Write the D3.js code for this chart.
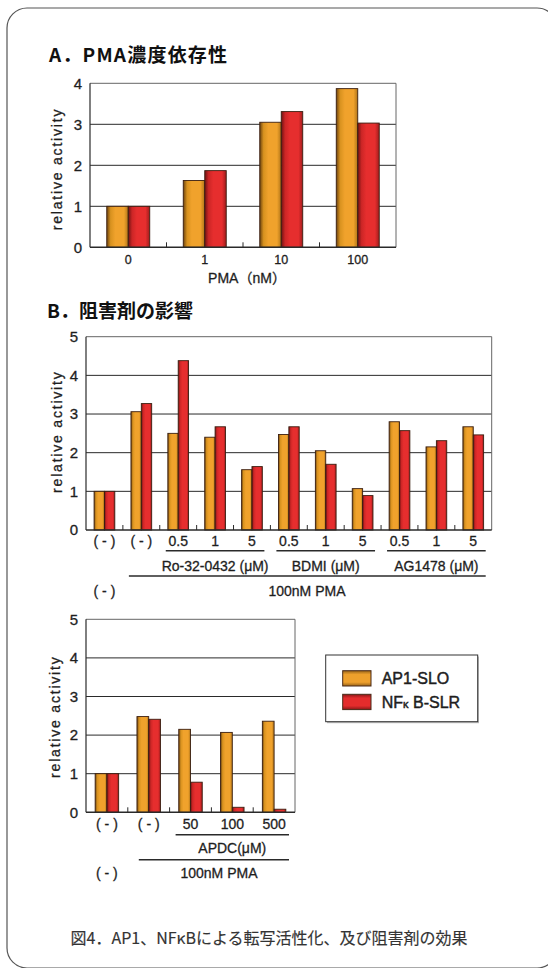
<!DOCTYPE html>
<html>
<head>
<meta charset="utf-8">
<script src="https://cdn.jsdelivr.net/npm/d3@7/dist/d3.min.js"></script>
<style>
  html, body { margin: 0; padding: 0; background: #fff; }
  svg { display: block; }
  text { font-family: "Liberation Sans", "Noto Sans CJK JP", sans-serif; fill: #1e1e1e; stroke: #1e1e1e; stroke-width: 0.3px; }
  .jp { font-family: "Noto Sans CJK JP", "Liberation Sans", sans-serif; }
  .bold { stroke-width: 0; }
</style>
</head>
<body>
<svg id="chart" width="548" height="968"></svg>
<script>
// series names
const seriesNames = ['AP1-SLO', 'NFκB-SLR']

// A. PMA dose
const panelACats = ['0', '1', '10', '100']
const panelAAp1 = [1.0, 1.63, 3.05, 3.87]
const panelANfkb = [1.0, 1.87, 3.31, 3.03]
const panelATicks = [0, 1, 2, 3, 4]

// B. inhibitors
const panelBCats = ['( - )', '( - )', '0.5', '1', '5', '0.5', '1', '5', '0.5', '1', '5']
const panelBAp1 = [1.0, 3.06, 2.50, 2.40, 1.56, 2.47, 2.05, 1.07, 2.80, 2.15, 2.67]
const panelBNfkb = [1.0, 3.27, 4.38, 2.67, 1.64, 2.67, 1.70, 0.89, 2.57, 2.31, 2.46]
const panelBGroups = [
  { label: 'Ro-32-0432 (μM)', from: 2, to: 4 },
  { label: 'BDMI (μM)', from: 5, to: 7 },
  { label: 'AG1478 (μM)', from: 8, to: 10 }
]

// B (lower). APDC
const panelCCats = ['( - )', '( - )', '50', '100', '500']
const panelCAp1 = [1.0, 2.48, 2.15, 2.07, 2.36]
const panelCNfkb = [1.0, 2.41, 0.78, 0.13, 0.08]
const panelCGroups = [
  { label: 'APDC(μM)', from: 2, to: 4 }
]
const panelBCTicks = [0, 1, 2, 3, 4, 5]

const svg = d3.select('#chart')
const defs = svg.append('defs')

// bar gradients (horizontal, dark edges)
function hGrad(id, stops) {
  const g = defs.append('linearGradient').attr('id', id)
    .attr('x1', '0%').attr('x2', '100%').attr('y1', '0%').attr('y2', '0%')
  stops.forEach(s => g.append('stop').attr('offset', s[0]).attr('stop-color', s[1]))
}
function vGrad(id, stops) {
  const g = defs.append('linearGradient').attr('id', id)
    .attr('x1', '0%').attr('x2', '0%').attr('y1', '0%').attr('y2', '100%')
  stops.forEach(s => g.append('stop').attr('offset', s[0]).attr('stop-color', s[1]))
}
hGrad('gOrange', [['0%', '#6e440e'], ['18%', '#d8921f'], ['40%', '#f0a22c'], ['80%', '#f0a22c'], ['100%', '#b07418']])
hGrad('gRed', [['0%', '#701212'], ['18%', '#cc2626'], ['40%', '#e62e2e'], ['80%', '#e62e2e'], ['100%', '#a01c1c']])
vGrad('lOrange', [['0%', '#9a6418'], ['25%', '#eea02c'], ['75%', '#eea02c'], ['100%', '#9a6418']])
vGrad('lRed', [['0%', '#8a1818'], ['25%', '#e42c2c'], ['75%', '#e42c2c'], ['100%', '#8a1818']])
const fills = ['url(#gOrange)', 'url(#gRed)']

// outer frame
svg.append('rect')
  .attr('x', 7).attr('y', 8).attr('width', 550).attr('height', 960).attr('rx', 20)
  .style('fill', 'none').style('stroke', '#555').style('stroke-width', 1.2)

function drawPanel(cfg) {
  const g = svg.append('g')
  const x = d3.scaleBand().domain(d3.range(cfg.cats.length)).range(cfg.xr).paddingInner(0).paddingOuter(0)
  const xs = d3.scaleBand().domain([0, 1]).range([0, x.bandwidth()]).paddingInner(0).paddingOuter(0.78)
  const y = d3.scaleLinear().domain([0, cfg.ticks[cfg.ticks.length - 1]]).range(cfg.yr)
  const x0 = cfg.xr[0], x1 = cfg.xr[1], yb = cfg.yr[0], yt = cfg.yr[1]

  // grid
  g.selectAll('.grid').data(cfg.ticks.filter(t => t > 0)).enter().append('line')
    .attr('x1', x0).attr('x2', x1).attr('y1', d => y(d)).attr('y2', d => y(d))
    .style('stroke', (d, i, a) => i === a.length - 1 ? '#666' : '#2a2a2a').style('stroke-width', 1)
  g.append('line').attr('x1', x1).attr('x2', x1).attr('y1', yt).attr('y2', yb)
    .style('stroke', '#666').style('stroke-width', 1)

  // bars
  const rows = cfg.cats.map((c, i) => [cfg.ap1[i], cfg.nfkb[i]])
  const grp = g.selectAll('.cat').data(rows).enter().append('g')
    .attr('transform', (d, i) => `translate(${x(i)},0)`)
  grp.selectAll('rect').data(d => d).enter().append('rect')
    .attr('x', (d, j) => xs(j))
    .attr('y', d => y(d))
    .attr('width', xs.bandwidth())
    .attr('height', d => yb - y(d))
    .style('fill', (d, j) => fills[j])
    .style('stroke', '#3a1e10').style('stroke-width', 0.9)

  // axes lines
  g.append('line').attr('x1', x0).attr('x2', x0).attr('y1', yt).attr('y2', yb)
    .style('stroke', '#2a2a2a').style('stroke-width', 1.2)
  g.append('line').attr('x1', x0).attr('x2', x1).attr('y1', yb).attr('y2', yb)
    .style('stroke', '#2a2a2a').style('stroke-width', 1.5)
  g.selectAll('.sep').data(d3.range(1, cfg.cats.length)).enter().append('line')
    .attr('x1', d => x0 + d * x.step()).attr('x2', d => x0 + d * x.step())
    .attr('y1', yb).attr('y2', yb - 5)
    .style('stroke', '#2a2a2a').style('stroke-width', 1)

  // y axis labels
  const ya = d3.axisLeft(y).tickValues(cfg.ticks).tickSize(0).tickPadding(8).tickFormat(d3.format('d'))
  const yg = g.append('g').attr('transform', `translate(${x0},0)`).call(ya)
  yg.select('.domain').remove()
  yg.selectAll('text').style('font-size', '15px').style('font-family', '"Liberation Sans", sans-serif')

  // x axis labels
  const xa = d3.axisBottom(x).tickSize(0).tickPadding(cfg.xPad).tickFormat(i => cfg.cats[i])
  const xg = g.append('g').attr('transform', `translate(0,${yb})`).call(xa)
  xg.select('.domain').remove()
  xg.selectAll('text').style('font-size', cfg.xFont + 'px').style('font-family', '"Liberation Sans", sans-serif')

  // y title
  g.append('text')
    .attr('transform', `translate(${cfg.yLabel[0]},${cfg.yLabel[1]}) rotate(-90)`)
    .attr('text-anchor', 'middle').attr('dy', '0.35em')
    .style('font-size', '14px').style('letter-spacing', '1.8px')
    .text('relative activity')

  // groups
  if (cfg.groups) {
    cfg.groups.forEach(gr => {
      const a = x(gr.from) + 6, b = x(gr.to) + x.step() - 6
      g.append('line').attr('x1', a).attr('x2', b).attr('y1', yb + cfg.gLine).attr('y2', yb + cfg.gLine)
        .style('stroke', '#2a2a2a').style('stroke-width', 1.5)
      g.append('text').attr('x', (a + b) / 2).attr('y', yb + cfg.gText)
        .attr('text-anchor', 'middle').style('font-size', '14px').text(gr.label)
    })
    const a = x(1) + cfg.pInset, b = x(cfg.cats.length - 1) + x.step() - 6
    g.append('line').attr('x1', a).attr('x2', b).attr('y1', yb + cfg.pLine).attr('y2', yb + cfg.pLine)
      .style('stroke', '#2a2a2a').style('stroke-width', 1.5)
    g.append('text').attr('x', cfg.pmaX).attr('y', yb + cfg.pText)
      .attr('text-anchor', 'middle').style('font-size', '14px').text('100nM PMA')
    g.append('text').attr('x', x(0) + x.step() / 2).attr('y', yb + cfg.pText)
      .attr('text-anchor', 'middle').style('font-size', '14px').text('( - )')
  }
  return { x, y }
}

// titles
svg.append('text').attr('class', 'jp bold').attr('x', 49).attr('y', 62)
  .style('font-size', '19px').style('font-weight', 'bold').style('letter-spacing', '1.2px').style('fill', '#111')
  .text('A．PMA濃度依存性')
svg.append('text').attr('class', 'jp bold').attr('x', 47).attr('y', 318)
  .style('font-size', '19px').style('font-weight', 'bold').style('fill', '#111')
  .text('B．阻害剤の影響')

drawPanel({
  cats: panelACats, ap1: panelAAp1, nfkb: panelANfkb, ticks: panelATicks,
  xr: [90, 396], yr: [247.3, 83.3], xPad: 8, xFont: 12.5, yLabel: [57, 169]
})
svg.append('text').attr('x', 247).attr('y', 283).attr('text-anchor', 'middle')
  .style('font-size', '14px').text('PMA（nM）')

drawPanel({
  cats: panelBCats, ap1: panelBAp1, nfkb: panelBNfkb, ticks: panelBCTicks,
  xr: [86, 491.7], yr: [530, 336.7], xPad: 6.5, xFont: 14, yLabel: [57, 431.7],
  groups: panelBGroups, gLine: 20.7, gText: 41, pLine: 46, pText: 66, pInset: 6, pmaX: 307
})

drawPanel({
  cats: panelCCats, ap1: panelCAp1, nfkb: panelCNfkb, ticks: panelBCTicks,
  xr: [86, 295], yr: [812.3, 619.3], xPad: 7, xFont: 14, yLabel: [55, 716.7],
  groups: panelCGroups, gLine: 22.4, gText: 40.7, pLine: 47.4, pText: 66, pInset: 11, pmaX: 219
})

// legend
const lg = svg.append('g')
lg.append('rect').attr('x', 327).attr('y', 656.5).attr('width', 152).attr('height', 66.7)
  .style('fill', '#bbb')
lg.append('rect').attr('x', 325.7).attr('y', 655).attr('width', 152).attr('height', 66.7)
  .style('fill', '#fff').style('stroke', '#333').style('stroke-width', 1)
const lfills = ['url(#lOrange)', 'url(#lRed)']
seriesNames.forEach((name, i) => {
  const yy = 670.7 + i * 23.6
  lg.append('rect').attr('x', 342.7).attr('y', yy).attr('width', 28.3).attr('height', 15.3)
    .style('fill', lfills[i]).style('stroke', '#4a2a18').style('stroke-width', 1)
  const t = lg.append('text').attr('x', 381.7).attr('y', yy + 13.5).style('font-size', '16px')
    .style('stroke-width', '0.45px')
  if (i === 0) t.text(name)
  else {
    t.append('tspan').text('NF')
    t.append('tspan').style('font-size', '11px').text('κ')
    t.append('tspan').text(' B-SLR')
  }
})

// caption
svg.append('text').attr('class', 'jp').attr('x', 269).attr('y', 944)
  .attr('text-anchor', 'middle').style('font-size', '16px').style('fill', '#333').style('stroke', '#333')
  .style('stroke-width', '0.15px')
  .text('図4．AP1、NFκBによる転写活性化、及び阻害剤の効果')
</script>
</body>
</html>
